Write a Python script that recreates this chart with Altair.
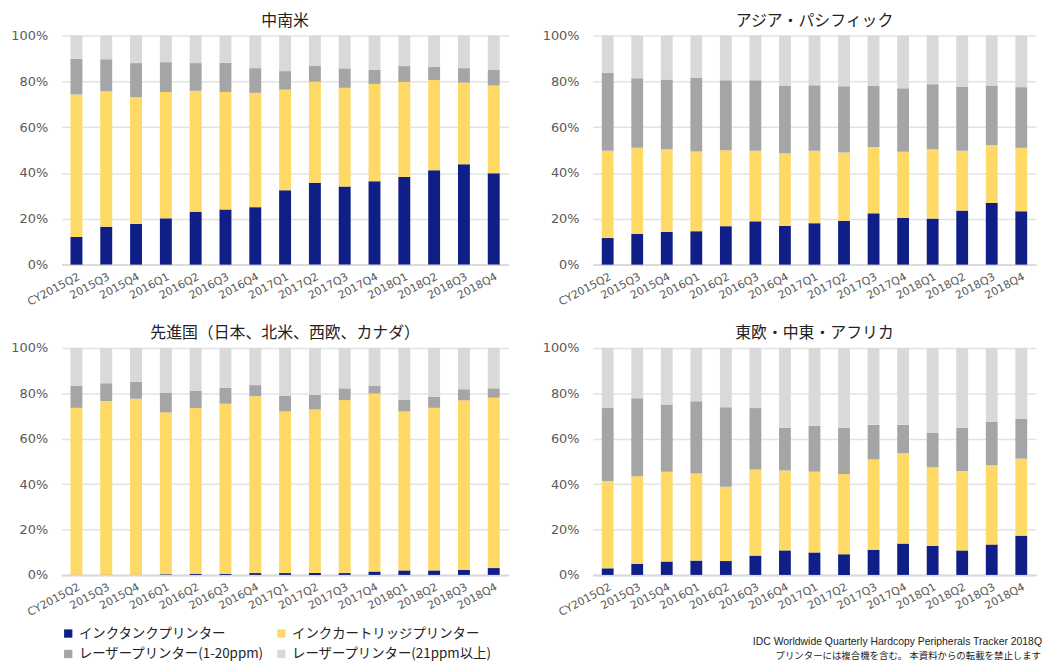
import altair as alt
import pandas as pd

quarters = ["CY2015Q2", "2015Q3", "2015Q4", "2016Q1", "2016Q2", "2016Q3", "2016Q4",
            "2017Q1", "2017Q2", "2017Q3", "2017Q4", "2018Q1", "2018Q2", "2018Q3", "2018Q4"]

series = ["インクタンクプリンター", "インクカートリッジプリンター",
          "レーザープリンター(1-20ppm)", "レーザープリンター(21ppm以上)"]
colors = ["#101F87", "#FFD966", "#A5A5A5", "#D9D9D9"]

# 中南米
la_tank = [12.1, 16.5, 17.8, 20.2, 23.1, 24.1, 25.1, 32.5, 35.7, 34.1, 36.4, 38.3, 41.2, 43.8, 39.9]
la_cart = [62.2, 59.2, 55.3, 55.2, 52.8, 51.3, 49.9, 43.9, 44.1, 43.1, 42.5, 41.5, 39.4, 35.7, 38.3]
la_laser1 = [15.6, 14.0, 14.9, 13.0, 12.1, 12.8, 10.8, 8.1, 7.2, 8.5, 6.2, 6.9, 5.7, 6.3, 6.8]
la_laser2 = [10.1, 10.3, 12.0, 11.6, 12.0, 11.8, 14.2, 15.5, 13.0, 14.3, 14.9, 13.3, 13.7, 14.2, 15.0]

# アジア・パシフィック
ap_tank = [11.6, 13.4, 14.3, 14.6, 16.8, 18.9, 16.9, 18.1, 19.2, 22.4, 20.4, 20.1, 23.6, 26.9, 23.3]
ap_cart = [38.1, 37.6, 36.1, 34.8, 33.1, 30.8, 31.7, 31.6, 29.8, 28.9, 28.9, 30.3, 26.1, 25.3, 27.7]
ap_laser1 = [34.0, 30.4, 30.4, 32.1, 30.6, 30.8, 29.6, 28.6, 28.9, 26.7, 27.7, 28.4, 27.9, 26.0, 26.5]
ap_laser2 = [16.3, 18.6, 19.2, 18.5, 19.5, 19.5, 21.8, 21.7, 22.1, 22.0, 23.0, 21.2, 22.4, 21.8, 22.5]

# 先進国
dm_tank = [0.1, 0.1, 0.1, 0.3, 0.5, 0.5, 0.8, 0.8, 0.8, 0.8, 1.5, 2.0, 2.0, 2.2, 3.0]
dm_cart = [73.5, 76.5, 77.5, 71.3, 73.0, 74.9, 77.9, 71.2, 72.1, 76.2, 78.4, 70.0, 71.6, 74.7, 75.1]
dm_laser1 = [9.7, 7.8, 7.4, 8.7, 7.7, 7.1, 4.9, 7.0, 6.4, 5.2, 3.5, 5.2, 4.9, 4.9, 4.1]
dm_laser2 = [16.7, 15.6, 15.0, 19.7, 18.8, 17.5, 16.4, 21.0, 20.7, 17.8, 16.6, 22.8, 21.5, 18.2, 17.8]

# 東欧・中東・アフリカ
em_tank = [2.9, 4.9, 5.9, 6.3, 6.1, 8.5, 10.8, 9.9, 9.1, 11.1, 13.8, 12.8, 10.8, 13.4, 17.3]
em_cart = [38.5, 38.6, 39.5, 38.4, 32.7, 37.9, 35.2, 35.6, 35.3, 39.8, 39.8, 34.6, 34.9, 34.9, 33.9]
em_laser1 = [32.1, 34.3, 29.7, 31.8, 35.1, 27.1, 18.8, 20.2, 20.4, 15.2, 12.5, 15.3, 19.1, 19.1, 17.5]
em_laser2 = [26.5, 22.2, 24.9, 23.5, 26.1, 26.5, 35.2, 34.3, 35.2, 33.9, 33.9, 37.3, 35.2, 32.6, 31.3]

source_lines = ["IDC Worldwide Quarterly Hardcopy Peripherals Tracker 2018Q",
                "プリンターには複合機を含む。 本資料からの転載を禁止します"]

JP = "Noto Sans CJK JP"
LBL = "DejaVu Sans"


def frame(cols):
    rows = []
    for si, vals in enumerate(cols):
        for q, v in zip(quarters, vals):
            rows.append({"q": q, "s": series[si], "o": si, "v": v})
    return pd.DataFrame(rows)


def panel(title, cols, w, h):
    df = frame(cols)
    return alt.Chart(df, title=alt.TitleParams(title, font=JP, fontSize=16, fontWeight="normal",
                                               color="#222222", offset=1)).mark_bar().encode(
        x=alt.X("q:N", sort=quarters, title=None,
                scale=alt.Scale(paddingInner=0.6, paddingOuter=0.3),
                axis=alt.Axis(labelAngle=-28, labelAlign="right", labelBaseline="top",
                              labelFont=LBL, labelFontSize=11, labelColor="#595959",
                              labelPadding=6, ticks=False, domainColor="#D9D9D9",
                              domainWidth=2, grid=False, minExtent=45, maxExtent=45)),
        y=alt.Y("v:Q", stack="normalize", title=None,
                scale=alt.Scale(domain=[0, 1]),
                axis=alt.Axis(format=".0%", values=[0, 0.2, 0.4, 0.6, 0.8, 1.0],
                              labelFont=LBL, labelFontSize=13, labelColor="#595959",
                              labelPadding=14, ticks=False, domain=False,
                              gridColor="#E3E3E3", gridWidth=1.5,
                              minExtent=54, maxExtent=54)),
        color=alt.Color("s:N", scale=alt.Scale(domain=series, range=colors), title=None),
        order=alt.Order("o:Q", sort="ascending"),
    ).properties(width=w, height=h)


p1 = panel("中南米", [la_tank, la_cart, la_laser1, la_laser2], 451, 231)
p2 = panel("アジア・パシフィック", [ap_tank, ap_cart, ap_laser1, ap_laser2], 447, 231)
p3 = panel("先進国（日本、北米、西欧、カナダ）", [dm_tank, dm_cart, dm_laser1, dm_laser2], 451, 229)
p4base = panel("東欧・中東・アフリカ", [em_tank, em_cart, em_laser1, em_laser2], 447, 229)

src1 = alt.Chart(pd.DataFrame({"t": [source_lines[0]]})).mark_text(
    align="right", baseline="middle", font="Liberation Sans", fontSize=10.5, color="#222222"
).encode(text="t:N", x=alt.value(453), y=alt.value(297))
src2 = alt.Chart(pd.DataFrame({"t": [source_lines[1]]})).mark_text(
    align="right", baseline="middle", font=JP, fontSize=9.5, color="#222222"
).encode(text="t:N", x=alt.value(452), y=alt.value(311))

p4 = alt.layer(p4base, src1, src2)

chart = alt.vconcat(
    alt.hconcat(p1, p2, spacing=31),
    alt.hconcat(p3, p4, spacing=31),
    spacing=16,
).properties(
    padding={"left": 0, "top": 2, "right": 0, "bottom": 0}
).configure_view(stroke=None).configure_legend(
    orient="none", legendX=0, legendY=596, columns=2, direction="horizontal",
    columnPadding=10, rowPadding=6,
    symbolType="square", symbolSize=70, labelFont=JP, labelFontSize=13.5,
    labelColor="#222222", labelLimit=300, symbolStrokeWidth=0
)

chart.save("out.html", embed_options={"renderer": "svg", "actions": False})
